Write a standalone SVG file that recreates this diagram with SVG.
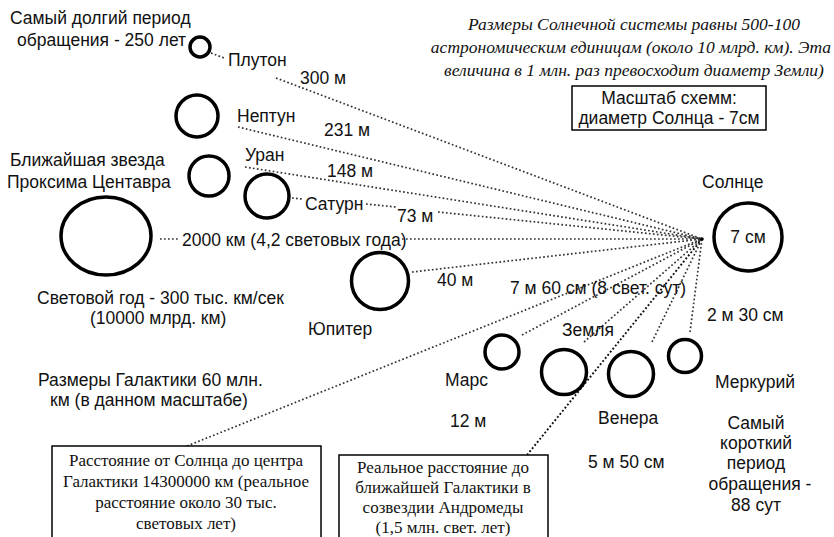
<svg xmlns="http://www.w3.org/2000/svg" width="834" height="537" viewBox="0 0 834 537">
<style>
.s{font-family:"Liberation Sans",Arial,sans-serif;font-size:17.5px;fill:#111}
.m{font-family:"Liberation Serif","Times New Roman",serif;font-size:17px;fill:#111}
.i{font-family:"Liberation Serif","Times New Roman",serif;font-size:17.5px;font-style:italic;fill:#111}
.c{text-anchor:middle}
.p{fill:#fff;stroke:#000;stroke-width:3.5}
.d{fill:none;stroke:#333;stroke-width:1.7;stroke-dasharray:1.7 2.3}
.dk{fill:none;stroke:#111;stroke-width:1.9;stroke-dasharray:1.9 2.1}
.b{fill:#fff;stroke:#000;stroke-width:1.5}
</style>
<rect width="834" height="537" fill="#fff"/>
<g id="connectors">
<path class="d" d="M211,53 L224,58 M276,78 L702,239"/>
<path class="d" d="M238,127 L702,239"/>
<path class="d" d="M245,167 L702,239"/>
<path class="d" d="M292,198 L302,199 M366,204 L396,207 M438,212 L702,239"/>
<path class="d" d="M160,239 L179,239 M402,239 L702,239"/>
<path class="d" d="M412,272 L702,239"/>
<path class="d" d="M187,446 L702,239"/>
<path class="d" d="M522,335 L702,239"/>
<path class="d" d="M584,342 L702,239"/>
<path class="dk" d="M527,455 L702,239"/>
<path class="d" d="M652,342 L702,239"/>
<path class="d" d="M690,332 L702,239"/>
<circle cx="702" cy="239" r="1.8" fill="#000"/>
</g>
<g id="text-longest">
<text class="s" x="10" y="24">Самый долгий период</text>
<text class="s" x="17" y="46">обращения - 250 лет</text>
</g>
<g id="pluto">
<circle class="p" cx="200" cy="47" r="10"/>
<text class="s" x="228" y="66">Плутон</text>
</g>
<text class="s" x="300" y="84">300 м</text>
<g id="neptune">
<circle class="p" cx="197" cy="116" r="21"/>
<text class="s" x="237" y="122">Нептун</text>
</g>
<text class="s" x="324" y="136">231 м</text>
<g id="uranus">
<circle class="p" cx="209" cy="176" r="20"/>
<text class="s" x="245" y="161">Уран</text>
</g>
<text class="s" x="327" y="177">148 м</text>
<g id="saturn">
<circle class="p" cx="267" cy="196" r="22"/>
<text class="s" x="305" y="210">Сатурн</text>
</g>
<text class="s" x="397" y="222">73 м</text>
<g id="proxima">
<ellipse class="p" cx="106" cy="236" rx="45" ry="39"/>
<text class="s" x="10" y="166">Ближайшая звезда</text>
<text class="s" x="7" y="188">Проксима Центавра</text>
<text class="s" x="182" y="246">2000 км (4,2 световых года)</text>
<text class="s" x="37" y="304">Световой год - 300 тыс. км/сек</text>
<text class="s" x="90" y="324">(10000 млрд. км)</text>
</g>
<g id="sun">
<circle class="p" cx="748" cy="237" r="34"/>
<text class="s c" x="748" y="243">7 см</text>
<text class="s" x="702" y="188">Солнце</text>
</g>
<g id="jupiter">
<circle class="p" cx="380" cy="281" r="28.5"/>
<text class="s" x="308" y="335">Юпитер</text>
</g>
<text class="s" x="437" y="286">40 м</text>
<text class="s" x="510" y="294">7 м 60 см (8 свет. сут)</text>
<text class="s" x="707" y="321">2 м 30 см</text>
<g id="mars">
<circle class="p" cx="502" cy="352" r="17"/>
<text class="s" x="445" y="386">Марс</text>
<text class="s" x="450" y="427">12 м</text>
</g>
<g id="earth">
<circle class="p" cx="564" cy="372" r="22.5"/>
<text class="s" x="562" y="336">Земля</text>
</g>
<g id="venus">
<circle class="p" cx="631" cy="374" r="22.5"/>
<text class="s" x="598" y="424">Венера</text>
<text class="s" x="588" y="468">5 м 50 см</text>
</g>
<g id="mercury">
<circle class="p" cx="685" cy="356" r="16.5"/>
<text class="s" x="715" y="388">Меркурий</text>
<g class="s c">
<text x="756" y="429">Самый</text>
<text x="756" y="449">короткий</text>
<text x="756" y="469">период</text>
<text x="760" y="490">обращения -</text>
<text x="756" y="511">88 сут</text>
</g>
</g>
<g id="galaxy-size">
<text class="s" x="38" y="386">Размеры Галактики 60 млн.</text>
<text class="s" x="50" y="406">км (в данном масштабе)</text>
</g>
<g id="solar-system-size" class="i c">
<text x="634" y="30">Размеры Солнечной системы равны 500-100</text>
<text x="631" y="53">астрономическим единицам (около 10 млрд. км). Эта</text>
<text x="634" y="76">величина в 1 млн. раз превосходит диаметр Земли)</text>
</g>
<g id="scale-box">
<rect class="b" x="572" y="86" width="194" height="44"/>
<text class="s c" x="669" y="104">Масштаб схемм:</text>
<text class="s c" x="669" y="124">диаметр Солнца - 7см</text>
</g>
<g id="galactic-center-box">
<rect class="b" x="52" y="446" width="269" height="93"/>
<g class="m c">
<text x="186" y="466">Расстояние от Солнца до центра</text>
<text x="186" y="487">Галактики 14300000 км (реальное</text>
<text x="186" y="508">расстояние около 30 тыс.</text>
<text x="186" y="529">световых лет)</text>
</g>
</g>
<g id="andromeda-box">
<rect class="b" x="339" y="455" width="209" height="84"/>
<g class="m c">
<text x="443" y="473">Реальное расстояние до</text>
<text x="443" y="493">ближайшей Галактики в</text>
<text x="443" y="513">созвездии Андромеды</text>
<text x="443" y="533">(1,5 млн. свет. лет)</text>
</g>
</g>
</svg>
